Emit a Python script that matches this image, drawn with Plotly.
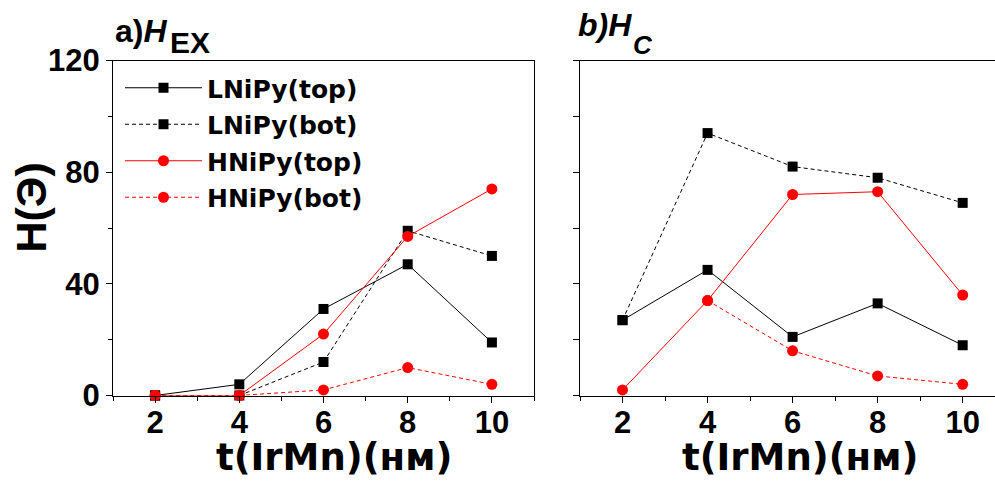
import plotly.graph_objects as go

# Film thickness t(IrMn), nm
thickness = [2, 4, 6, 8, 10]

# a) exchange bias field H_EX, Oe
hex_lnipy_top = [0, 4, 31, 47, 19]
hex_lnipy_bot = [0, 0, 12, 59, 50]
hex_hnipy_top = [0, 0, 22, 57, 74]
hex_hnipy_bot = [0, 0, 2, 10, 4]

# b) coercive field H_C, Oe
hc_lnipy_top = [27, 45, 21, 33, 18]
hc_lnipy_bot = [27, 94, 82, 78, 69]
hc_hnipy_top = [2, 34, 72, 73, 36]
hc_hnipy_bot = [None, 34, 16, 7, 4]

series_names = ["LNiPy(top)", "LNiPy(bot)", "HNiPy(top)", "HNiPy(bot)"]

W, H = 995, 482
BLACK, RED = "#000000", "#ff0000"
ARIAL = "Liberation Sans, Arial, sans-serif"
DEJAVU = "DejaVu Sans, sans-serif"

styles = [
    dict(color=BLACK, dash="solid", symbol="square", size=10),
    dict(color=BLACK, dash="4px,3px", symbol="square", size=10),
    dict(color=RED, dash="solid", symbol="circle", size=11),
    dict(color=RED, dash="4px,3px", symbol="circle", size=11),
]

fig = go.Figure()

left = [hex_lnipy_top, hex_lnipy_bot, hex_hnipy_top, hex_hnipy_bot]
right = [hc_lnipy_top, hc_lnipy_bot, hc_hnipy_top, hc_hnipy_bot]

for name, ys, st in zip(series_names, left, styles):
    fig.add_trace(go.Scatter(
        x=thickness, y=ys, name=name, mode="lines+markers",
        legendgroup=name,
        line=dict(color=st["color"], width=1, dash=st["dash"]),
        marker=dict(color=st["color"], symbol=st["symbol"], size=st["size"]),
        xaxis="x", yaxis="y", cliponaxis=False,
    ))

for name, ys, st in zip(series_names, right, styles):
    fig.add_trace(go.Scatter(
        x=thickness, y=ys, name=name, mode="lines+markers",
        showlegend=False, connectgaps=False,
        line=dict(color=st["color"], width=1, dash=st["dash"]),
        marker=dict(color=st["color"], symbol=st["symbol"], size=st["size"]),
        xaxis="x2", yaxis="y2", cliponaxis=False,
    ))


def px_x(p):
    return p / W


def px_y(p):
    return 1 - p / H


tick_font = dict(family=ARIAL, size=31, color=BLACK, weight="bold")

x_common = dict(
    tickmode="linear", tick0=0, dtick=2,
    ticks="outside", ticklen=6, tickwidth=1, tickcolor=BLACK,
    minor=dict(ticks="outside", ticklen=4, tickwidth=1, tickcolor=BLACK, dtick=1, tick0=1),
    showline=True, linecolor=BLACK, linewidth=1,
    showgrid=False, zeroline=False, automargin=False,
    tickfont=tick_font, ticklabelstandoff=-7,
)

fig.update_layout(
    width=W, height=H,
    margin=dict(l=0, r=0, t=0, b=0, pad=0, autoexpand=False),
    paper_bgcolor="white", plot_bgcolor="white",
    xaxis=dict(domain=[px_x(113), px_x(534)], range=[1, 11], mirror=True,
               anchor="y", **x_common),
    xaxis2=dict(domain=[px_x(580), 1.0], range=[1, 10.76], mirror=True,
                anchor="y2", **x_common),
    yaxis=dict(domain=[px_y(395.5), px_y(60.5)], range=[0, 120], anchor="x",
               tickmode="array", tickvals=[0, 40, 80, 120],
               ticks="outside", ticklen=6, tickwidth=1, tickcolor=BLACK,
               minor=dict(ticks="outside", ticklen=4, tickwidth=1, tickcolor=BLACK,
                          tickvals=[20, 60, 100]),
               showline=True, linecolor=BLACK, linewidth=1, mirror=True,
               showgrid=False, zeroline=False, automargin=False, tickfont=tick_font),
    yaxis2=dict(domain=[px_y(395.5), px_y(60.5)], range=[0, 120], anchor="x2",
                tickmode="linear", tick0=0, dtick=20,
                ticks="outside", ticklen=6, tickwidth=1, tickcolor=BLACK,
                showticklabels=False,
                showline=True, linecolor=BLACK, linewidth=1, mirror=False,
                showgrid=False, zeroline=False, automargin=False),
    showlegend=True,
    legend=dict(
        x=px_x(120), y=px_y(65), xanchor="left", yanchor="top",
        bgcolor="rgba(0,0,0,0)", borderwidth=0,
        font=dict(family=DEJAVU, size=25, color=BLACK, weight="bold"),
        itemwidth=77, tracegroupgap=1,
    ),
)

annotations = [
    # panel titles
    dict(text="a)<i>H</i>", x=px_x(113), y=px_y(31.5), xanchor="left", yanchor="middle",
         font=dict(family=ARIAL, size=32, color=BLACK, weight="bold")),
    dict(text="EX", x=px_x(168), y=px_y(42.5), xanchor="left", yanchor="middle",
         font=dict(family=ARIAL, size=30, color=BLACK, weight="bold")),
    dict(text="<i>b)H</i>", x=px_x(576), y=px_y(25), xanchor="left", yanchor="middle",
         font=dict(family=ARIAL, size=32, color=BLACK, weight="bold")),
    dict(text="<i>C</i>", x=px_x(631), y=px_y(45), xanchor="left", yanchor="middle",
         font=dict(family=ARIAL, size=26, color=BLACK, weight="bold")),
    # axis titles
    dict(text="t(IrMn)(нм)", x=px_x(334), y=px_y(457), xanchor="center", yanchor="middle",
         font=dict(family=DEJAVU, size=37, color=BLACK, weight="bold")),
    dict(text="t(IrMn)(нм)", x=px_x(800), y=px_y(457), xanchor="center", yanchor="middle",
         font=dict(family=DEJAVU, size=37, color=BLACK, weight="bold")),
    dict(text="H(Э)", x=px_x(30), y=px_y(207.5), xanchor="center", yanchor="middle",
         textangle=-90,
         font=dict(family=ARIAL, size=43, color=BLACK, weight="bold")),
]
for a in annotations:
    a.update(xref="paper", yref="paper", showarrow=False)
fig.update_layout(annotations=annotations)

fig.write_html("out.html")
